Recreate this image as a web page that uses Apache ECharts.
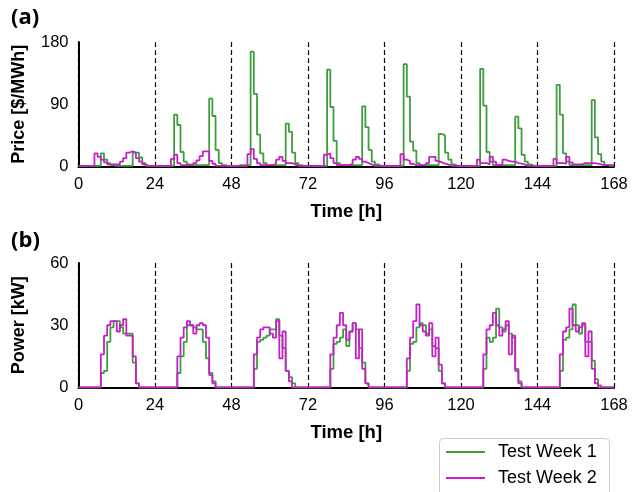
<!DOCTYPE html>
<html>
<head>
<meta charset="utf-8">
<script src="https://cdn.jsdelivr.net/npm/echarts@6/dist/echarts.min.js"></script>
<style>
  html, body { margin: 0; padding: 0; background: #fff; }
  #chart { width: 632px; height: 492px; }
</style>
</head>
<body>
<div id="chart"></div>
<script>
// hourly values, one row per day (168 h)
var priceWeek1 = [].concat(
    [1,1,1,1,1,1, 1,19,10,5,2,1, 1,1,1,1,1, 20,20,13,5,1,1,1],
    [1,1,1,1,1,1, 75,60,21,7,3,2, 2,2,2,2,2, 98,73,24,5,2,1,1],
    [1,1,2,2,2,2, 166,105,46,19,5,2, 2,2,2,2,2, 62,50,20,5,2,1,1],
    [1,1,1,1,1,1, 140,86,37,5,2,2, 2,2,2,2,2, 87,57,24,7,3,1,1],
    [1,1,1,1,1,1, 148,101,36,23,5,2, 2,2,2,2,2, 47,45,20,10,3,1,1],
    [1,1,1,1,1,1, 141,88,21,7,2,2, 2,2,2,2,2, 72,55,17,7,3,1,1],
    [1,1,1,1,1,1, 118,75,19,7,2,2, 2,2,2,2,2, 96,42,18,7,2,1,1]
);
var priceWeek2 = [].concat(
    [1,1,1,1,1, 19,14,10,6,3,3,3,3, 7,12,20,22,20,12,7,3, 1,1,1],
    [1,1,1,1,1, 11,17,5,2,2,2,2, 5,9,15,22,22,8,4, 1,1,1,1,1],
    [1,1,1,1,1, 18,25,11,5,2,2,2,2, 4,10,14,8,5,5,3, 1,1,1,1],
    [1,1,1,1,1, 17,19,12,5,2,2,2,2, 4,10,14,11,7,5,3, 1,1,1,1],
    [1,1,1,1,1, 18,10,8,4,2,2,2,2, 5,14,14,8,6,4,3, 1,1,1,1],
    [1,1,1,1,1, 10,5,5,3,14,7,2,2, 10,8,7,7,5,4,3, 1,1,1,1],
    [1,1,1,1,1, 11,5,5,4,14,6,3,3, 3,5,5,5,5,4,3, 2,2,2,2]
);
var powerWeek1 = [].concat(
    [0,0,0,0,0,0,0, 7,8,22,29,32,32,29,26,26,26,12,2, 0,0,0,0,0],
    [0,0,0,0,0,0,0, 7,15,22,30,30,29,28,28,22,14,7,3, 0,0,0,0,0],
    [0,0,0,0,0,0,0, 9,22,23,24,25,28,28,33,25,19,8,5,2, 0,0,0,0],
    [0,0,0,0,0,0,0, 9,21,22,24,28,20,27,31,28,19,12,2, 0,0,0,0,0],
    [0,0,0,0,0,0,0, 8,21,22,29,31,30,26,28,20,19,8,2, 0,0,0,0,0],
    [0,0,0,0,0,0,0, 9,24,22,24,38,29,27,30,26,24,9,3, 0,0,0,0,0],
    [0,0,0,0,0,0,0, 8,23,24,28,40,30,26,30,22,22,13,4,1, 0,0,0,0]
);
var powerWeek2 = [].concat(
    [0,0,0,0,0,0,0, 16,25,30,32,32,27,30,33,25,25,15,2, 0,0,0,0,0],
    [0,0,0,0,0,0,0, 15,24,29,32,30,26,30,31,30,24,6,2, 0,0,0,0,0],
    [0,0,0,0,0,0,0, 16,24,28,29,29,26,24,32,14,27,8,3, 0,0,0,0,0],
    [0,0,0,0,0,0,0, 16,24,30,36,30,23,27,31,14,28,9,2, 0,0,0,0,0],
    [0,0,0,0,0,0,0, 14,24,32,40,30,27,25,31,15,24,11,2, 0,0,0,0,0],
    [0,0,0,0,0,0,0, 16,28,30,36,30,25,28,32,16,25,8,2, 0,0,0,0,0],
    [0,0,0,0,0,0,0, 16,27,29,38,30,27,29,31,15,27,9,2, 0,0,0,0,0]
);
var weekNames = ['Test Week 1', 'Test Week 2'];
var weekColors = ['#3c9e3c', '#c81ec8'];

// hour index -> [h, value], plus closing point at the end of the last hour
function toSteps(values) {
    var pts = values.map(function (v, i) { return [i, v]; });
    pts.push([values.length, values[values.length - 1]]);
    return pts;
}

function makeX(gridIndex) {
    return {
        type: 'value', gridIndex: gridIndex,
        min: 0, max: 168, interval: 24,
        name: 'Time [h]', nameLocation: 'middle', nameGap: 36,
        nameTextStyle: { fontFamily: 'Liberation Sans', fontWeight: 'bold', fontSize: 18.5, color: '#000' },
        axisLine: { show: true, lineStyle: { color: '#000', width: 2 } },
        axisTick: { show: false },
        axisLabel: { fontFamily: 'Liberation Sans', fontSize: 16.5, color: '#000', margin: 9 },
        splitLine: { show: true, lineStyle: { color: '#000', width: 1.2, type: [5, 3] } }
    };
}

function makeY(gridIndex, name, max, interval) {
    return {
        type: 'value', gridIndex: gridIndex,
        min: 0, max: max, interval: interval,
        name: name, nameLocation: 'middle', nameGap: 50,
        nameTextStyle: { fontFamily: 'Liberation Sans', fontWeight: 'bold', fontSize: 18, color: '#000' },
        axisLine: { show: true, lineStyle: { color: '#000', width: 2 } },
        axisTick: { show: false },
        axisLabel: { fontFamily: 'Liberation Sans', fontSize: 16.5, color: '#000', margin: 10 },
        splitLine: { show: false }
    };
}

function makeSeries(name, color, values, idx) {
    return {
        name: name, type: 'line', step: 'end',
        xAxisIndex: idx, yAxisIndex: idx,
        symbol: 'none', silent: true,
        lineStyle: { color: color, width: 1.8 },
        itemStyle: { color: color },
        data: toSteps(values)
    };
}

var chart = echarts.init(document.getElementById('chart'), null, { renderer: 'canvas' });

var option = {
    animation: false,
    backgroundColor: '#fff',
    title: [
        { text: '(a)', left: 6, top: 2, textStyle: { fontFamily: 'Open Sans', fontWeight: 'bold', fontSize: 22, color: '#000' } },
        { text: '(b)', left: 6, top: 225, textStyle: { fontFamily: 'Open Sans', fontWeight: 'bold', fontSize: 22, color: '#000' } }
    ],
    // legend frame runs past the bottom edge, as in the original
    graphic: [{
        type: 'rect', left: 439, top: 438, z: 0,
        shape: { width: 170, height: 80, r: 4 },
        style: { fill: '#fff', stroke: '#cccccc', lineWidth: 1 }
    }],
    legend: {
        data: weekNames.map(function (n) { return { name: n, icon: 'rect' }; }),
        orient: 'vertical',
        left: 446, top: 443,
        itemWidth: 39, itemHeight: 2, itemGap: 8,
        padding: 0,
        z: 5,
        textStyle: { fontFamily: 'Liberation Sans', fontSize: 18, color: '#000', padding: [0, 0, 0, 8], lineHeight: 18 }
    },
    grid: [
        { left: 78.5, top: 42, width: 535.5, height: 124.5 },
        { left: 78.5, top: 263, width: 535.5, height: 124.5 }
    ],
    xAxis: [makeX(0), makeX(1)],
    yAxis: [makeY(0, 'Price [$/MWh]', 180, 90), makeY(1, 'Power [kW]', 60, 30)],
    series: [
        makeSeries(weekNames[0], weekColors[0], priceWeek1, 0),
        makeSeries(weekNames[1], weekColors[1], priceWeek2, 0),
        makeSeries(weekNames[0], weekColors[0], powerWeek1, 1),
        makeSeries(weekNames[1], weekColors[1], powerWeek2, 1)
    ]
};

chart.setOption(option);
</script>
</body>
</html>
